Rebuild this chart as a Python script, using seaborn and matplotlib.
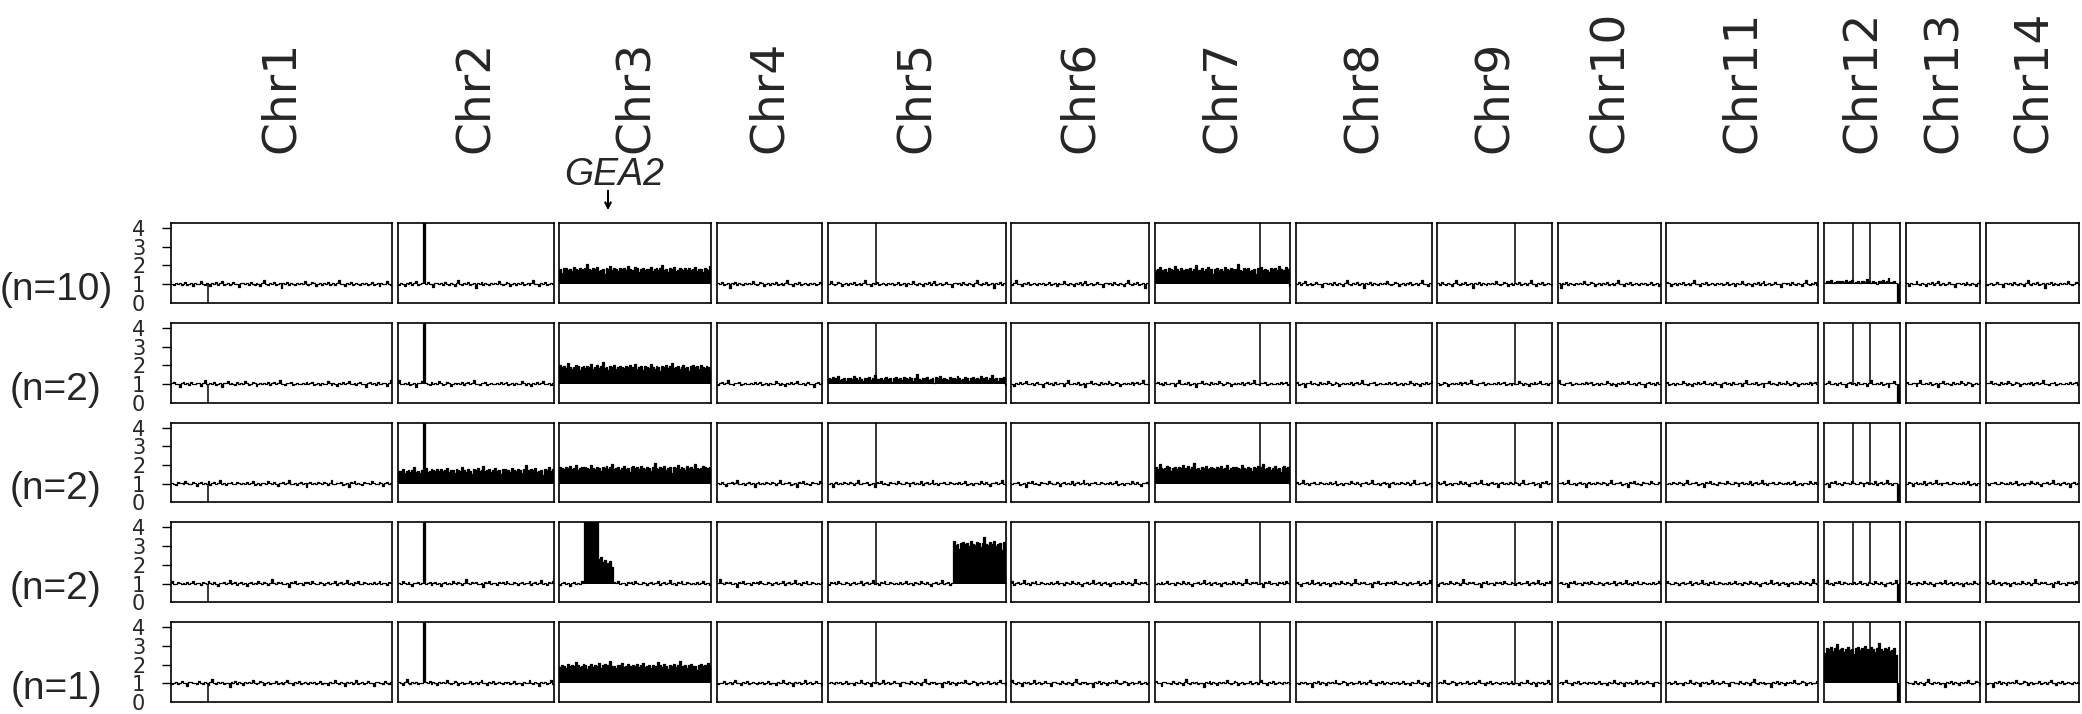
import numpy as np
import pandas as pd
import matplotlib
matplotlib.use("Agg")
import matplotlib.pyplot as plt
import seaborn as sns

# chromosome names and lengths (kb), lengths set the panel widths
CHROMS = ["Chr1", "Chr2", "Chr3", "Chr4", "Chr5", "Chr6", "Chr7",
          "Chr8", "Chr9", "Chr10", "Chr11", "Chr12", "Chr13", "Chr14"]
CHR_LEN = [2300, 1620, 1580, 1090, 1850, 1430, 1410,
           1410, 1190, 1070, 1580, 790, 775, 970]
ROW_LABELS = ["(n=10)", "(n=2)", "(n=2)", "(n=2)", "(n=1)"]
BIN = 20  # kb per bin

# copy-number segments (chromosome, start kb, end kb, copy number)
COMMON_SEGS = [("Chr2", 260, 280, 4.6), ("Chr12", 770, 790, 0.0)]
ROW1_SEGS = [("Chr3", 0, 1580, 1.78), ("Chr7", 0, 1410, 1.76), ("Chr12", 0, 770, 1.12)]
ROW2_SEGS = [("Chr3", 0, 1580, 1.88), ("Chr5", 0, 1850, 1.27)]
ROW3_SEGS = [("Chr2", 0, 260, 1.65), ("Chr2", 280, 1620, 1.7),
             ("Chr3", 0, 1580, 1.82), ("Chr7", 0, 1410, 1.82)]
ROW4_SEGS = [("Chr3", 265, 410, 4.6), ("Chr3", 410, 445, 2.35),
             ("Chr3", 445, 555, 2.12), ("Chr5", 1310, 1850, 3.1)]
ROW5_SEGS = [("Chr3", 0, 1580, 1.92), ("Chr12", 0, 770, 2.8)]
ROW_SEGS = [ROW1_SEGS, ROW2_SEGS, ROW3_SEGS, ROW4_SEGS, ROW5_SEGS]

# single-bin peaks seen in every strain
PEAK_CHR = ["Chr1", "Chr5", "Chr7", "Chr9", "Chr12", "Chr12"]
PEAK_POS = [380, 500, 1093, 810, 300, 482]
PEAK_VAL = [0.0, 4.5, 4.5, 4.5, 4.5, 4.5]

# bin-to-bin read-depth wiggle (relative), read by eye off the baseline
NOISE = [0.02, -0.03, 0.05, 0.00, 0.08, -0.02, 0.03, 0.12, -0.05, 0.01,
         0.04, -0.08, 0.06, 0.02, -0.01, 0.15, 0.03, -0.04, 0.07, 0.00,
         -0.12, 0.05, 0.02, 0.09, -0.03, 0.04, 0.18, -0.02, 0.01, 0.06,
         -0.06, 0.03, 0.10, -0.01, 0.02, -0.15, 0.05, 0.08, 0.00, 0.04,
         -0.04, 0.11, 0.02, -0.02, 0.07, 0.03, -0.09, 0.05, 0.22, 0.01,
         -0.03, 0.06, 0.02, 0.09, -0.05, 0.00, 0.04, -0.18, 0.07, 0.03,
         0.13, -0.02, 0.05, 0.01, -0.07, 0.08, 0.02, 0.06, -0.01, 0.16,
         0.03, -0.04, 0.00, 0.10, 0.05, -0.10, 0.02, 0.07, -0.02, 0.04,
         0.01, 0.12, -0.06, 0.03, 0.08, -0.03, 0.05, 0.20, -0.01, 0.02,
         -0.08, 0.06, 0.03, 0.11, -0.04, 0.00, 0.07]

sns.set_style("white")
plt.rcParams["font.family"] = ["DejaVu Sans"]

W, H = 2082, 714
fig = plt.figure(figsize=(W / 100, H / 100), dpi=100)
gs = fig.add_gridspec(5, 14, width_ratios=CHR_LEN,
                      left=171 / W, right=2079.5 / W,
                      top=1 - 223 / H, bottom=1 - 702 / H,
                      wspace=0.045, hspace=0.25)

first = None
for r in range(5):
    segs = COMMON_SEGS + ROW_SEGS[r]
    for c, name in enumerate(CHROMS):
        ax = fig.add_subplot(gs[r, c])
        n = int(np.ceil(CHR_LEN[c] / BIN))
        edges = np.arange(n + 1) * BIN
        mid = edges[:-1] + BIN / 2
        level = np.ones(n)
        for ch, s, e, v in segs:
            if ch == name:
                level[(mid >= s) & (mid < e)] = v
        k = (r * 31 + c * 17) % len(NOISE)
        wig = np.take(NOISE, np.arange(k, k + n), mode="wrap")
        y = np.where(level >= 4, level, level + wig * np.sqrt(level))
        ye = np.append(y, y[-1])
        df = pd.DataFrame({"pos": edges, "cn": ye})
        ax.fill_between(df["pos"], 1, df["cn"], step="post", color="black", lw=0)
        sns.lineplot(data=df, x="pos", y="cn", drawstyle="steps-post",
                     color="black", lw=0.9, estimator=None, sort=False, ax=ax)
        for pc, pp, pv in zip(PEAK_CHR, PEAK_POS, PEAK_VAL):
            if pc == name:
                ax.vlines(pp, 1, pv, color="black", lw=1.1)
        ax.set_xlim(0, CHR_LEN[c])
        ax.set_ylim(0, 4.27)
        ax.set_xlabel("")
        ax.set_ylabel("")
        ax.set_xticks([])
        for sp in ax.spines.values():
            sp.set_color("black")
            sp.set_linewidth(1.2)
        if c == 0:
            ax.set_yticks([0, 1, 2, 3, 4])
            ax.tick_params(axis="y", left=True, length=6.5, width=1,
                           pad=12, labelsize=15, color="black")
            ax.yaxis.get_major_ticks()[0].tick1line.set_visible(False)
            pos = ax.get_position()
            fig.text(56 / W, pos.y0 + 13 / H, ROW_LABELS[r], fontsize=28,
                     family=["Liberation Sans", "DejaVu Sans"],
                     ha="center", va="center")
            if r == 0:
                first = ax
        else:
            ax.set_yticks([])
        if r == 0:
            pos = ax.get_position()
            fig.text((pos.x0 + pos.x1) / 2, 1 - 153 / H, name, rotation=90,
                     fontsize=34, ha="center", va="bottom")

fig.text(614 / W, 1 - 185 / H, "GEA2", fontsize=27, style="italic",
         family=["Liberation Sans", "DejaVu Sans"], ha="center", va="baseline")
first.annotate("", xy=(608 / W, 1 - 213 / H), xytext=(608 / W, 1 - 188 / H),
               xycoords="figure fraction", textcoords="figure fraction",
               annotation_clip=False,
               arrowprops=dict(arrowstyle="->", lw=1.5, color="black"))

fig.savefig("out.png", dpi=100)
